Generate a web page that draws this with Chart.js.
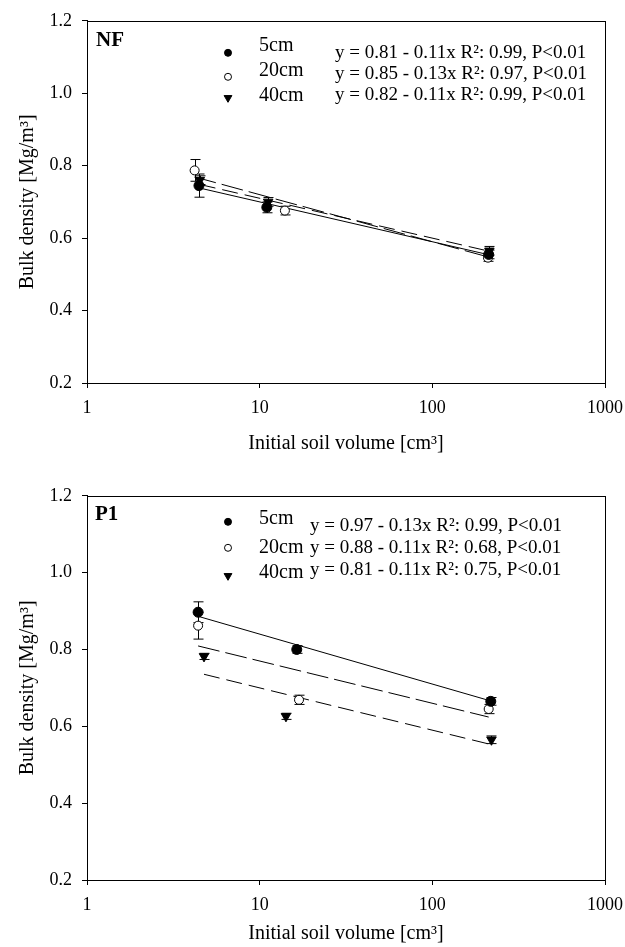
<!DOCTYPE html>
<html>
<head>
<meta charset="utf-8">
<script src="https://cdn.jsdelivr.net/npm/chart.js@4.4.0/dist/chart.umd.min.js"></script>
<style>
  body { margin: 0; background: #fff; }
  .panel { position: absolute; left: 0; }
</style>
</head>
<body>
<div class="panel" style="top:0px"><canvas id="nf" width="625" height="470"></canvas></div>
<div class="panel" style="top:475px"><canvas id="p1" width="625" height="472"></canvas></div>
<script>
const FONT = "'Liberation Serif', 'Times New Roman', serif";
const xTicks = [1, 10, 100, 1000];
const yTicks = [0.2, 0.4, 0.6, 0.8, 1.0, 1.2];
const depthLabels = ['5cm', '20cm', '40cm'];

// NF panel: volume [cm3], bulk density, error
const nfVol5 = [4.45, 11.0, 212];
const nfBd5 = [0.745, 0.685, 0.555];
const nfSd5 = [0.032, 0.015, 0.012];
const nfVol20 = [4.2, 14.0, 210];
const nfBd20 = [0.787, 0.676, 0.546];
const nfSd20 = [0.03, 0.012, 0.01];
const nfVol40 = [4.5, 11.2, 214];
const nfBd40 = [0.76, 0.70, 0.565];
const nfSd40 = [0.012, 0.012, 0.012];
const nfFitA = [0.81, 0.85, 0.82];
const nfFitB = [0.11, 0.13, 0.11];
const nfR2 = ['0.99', '0.97', '0.99'];

// P1 panel
const p1Vol5 = [4.4, 16.4, 218];
const p1Bd5 = [0.897, 0.80, 0.665];
const p1Sd5 = [0.027, 0.01, 0.01];
const p1Vol20 = [4.4, 16.9, 212];
const p1Bd20 = [0.862, 0.669, 0.645];
const p1Sd20 = [0.035, 0.012, 0.012];
const p1Vol40 = [4.76, 14.2, 220];
const p1Bd40 = [0.782, 0.626, 0.565];
const p1Sd40 = [0.008, 0.008, 0.01];
const p1FitA = [0.97, 0.88, 0.81];
const p1FitB = [0.13, 0.11, 0.11];
const p1R2 = ['0.99', '0.68', '0.75'];

const markerStyles = [
  { pointStyle: 'circle', radius: 5, bg: '#000', rotation: 0 },
  { pointStyle: 'circle', radius: 4.5, bg: '#fff', rotation: 0 },
  { pointStyle: 'triangle', radius: 5.5, bg: '#000', rotation: 180 }
];
const lineDashes = [[], [22, 6], [16, 7]];

function pts(vols, bds, sds) {
  return vols.map((v, i) => ({ x: v, y: bds[i], sd: sds[i] }));
}

// regression line y = a - b*log10(x) over the measured range
function fitLine(vols, a, b) {
  const lo = Math.min(...vols), hi = Math.max(...vols);
  return [lo, hi].map(v => ({ x: v, y: a - b * Math.log10(v) }));
}

// error bars under the markers
const errorBars = {
  id: 'errorBars',
  beforeDatasetsDraw(chart) {
    const ctx = chart.ctx;
    const ys = chart.scales.y;
    ctx.save();
    ctx.strokeStyle = '#000';
    ctx.lineWidth = 1;
    chart.data.datasets.forEach((ds, i) => {
      if (!ds.isPoints) return;
      chart.getDatasetMeta(i).data.forEach((el, j) => {
        const d = ds.data[j];
        const top = ys.getPixelForValue(d.y + d.sd);
        const bot = ys.getPixelForValue(d.y - d.sd);
        const x = Math.round(el.x) + 0.5;
        ctx.beginPath();
        ctx.moveTo(x, top); ctx.lineTo(x, bot);
        ctx.moveTo(x - 5, top); ctx.lineTo(x + 5, top);
        ctx.moveTo(x - 5, bot); ctx.lineTo(x + 5, bot);
        ctx.stroke();
      });
    });
    ctx.restore();
  }
};

// frame, panel label, legend and equations
const annotations = {
  id: 'annotations',
  afterDraw(chart, args, opts) {
    const ctx = chart.ctx;
    const a = chart.chartArea;
    ctx.save();
    ctx.strokeStyle = '#000';
    ctx.lineWidth = 1;
    ctx.strokeRect(Math.round(a.left) + 0.5, Math.round(a.top) + 0.5,
      Math.round(a.right - a.left), Math.round(a.bottom - a.top));

    ctx.fillStyle = '#000';
    ctx.textBaseline = 'middle';
    ctx.textAlign = 'left';
    ctx.font = 'bold 21px ' + FONT;
    ctx.fillText(opts.label, a.left + opts.labelX, a.top + opts.labelY);

    depthLabels.forEach((lab, i) => {
      const m = markerStyles[i];
      ctx.fillStyle = m.bg;
      ctx.strokeStyle = '#000';
      Chart.helpers.drawPoint(ctx, {
        pointStyle: m.pointStyle, rotation: m.rotation,
        radius: m.pointStyle === 'triangle' ? 4.5 : 3.5, borderWidth: 1
      }, a.left + 141, a.top + opts.markY[i]);
      ctx.fillStyle = '#000';
      ctx.font = '20px ' + FONT;
      ctx.fillText(lab, a.left + opts.textX, a.top + opts.textY[i]);
      ctx.font = '19px ' + FONT;
      const eq = 'y = ' + opts.fitA[i].toFixed(2) + ' - ' + opts.fitB[i].toFixed(2) +
        'x R\u00b2: ' + opts.r2[i] + ', P<0.01';
      ctx.fillText(eq, a.left + opts.eqX, a.top + opts.eqY[i]);
    });
    ctx.restore();
  }
};

function makeChart(id, p) {
  const series = [
    pts(p.vol[0], p.bd[0], p.sd[0]),
    pts(p.vol[1], p.bd[1], p.sd[1]),
    pts(p.vol[2], p.bd[2], p.sd[2])
  ];
  const datasets = [];
  series.forEach((s, i) => {
    datasets.push({
      label: depthLabels[i] + ' fit',
      data: fitLine(p.vol[i], p.fitA[i], p.fitB[i]),
      showLine: true,
      borderColor: '#000',
      borderWidth: 1,
      borderDash: lineDashes[i],
      pointRadius: 0,
      order: 2
    });
  });
  series.forEach((s, i) => {
    const m = markerStyles[i];
    datasets.push({
      label: depthLabels[i],
      isPoints: true,
      data: s,
      pointStyle: m.pointStyle,
      rotation: m.rotation,
      pointRadius: m.radius,
      backgroundColor: m.bg,
      borderColor: '#000',
      borderWidth: 1,
      order: 1
    });
  });

  const H = document.getElementById(id).height;
  return new Chart(document.getElementById(id), {
    type: 'scatter',
    data: { datasets },
    options: {
      responsive: false,
      animation: false,
      devicePixelRatio: 1,
      layout: { padding: { top: p.plotTop, right: 20, left: 0, bottom: 0 } },
      plugins: {
        legend: { display: false },
        tooltip: { enabled: false },
        annotations: {
          label: p.label, labelX: p.labelX, labelY: p.labelY,
          markY: p.markY, textX: p.textX, textY: p.textY,
          eqX: p.eqX, eqY: p.eqY, fitA: p.fitA, fitB: p.fitB, r2: p.r2
        }
      },
      scales: {
        x: {
          type: 'logarithmic',
          min: 1, max: 1000,
          afterBuildTicks: s => { s.ticks = xTicks.map(v => ({ value: v })); },
          afterFit: s => {
            s.height = H - p.plotBottom;
            s.paddingLeft = 0;
            s.paddingRight = 0;
          },
          ticks: {
            callback: v => String(v),
            color: '#000',
            font: { family: FONT, size: 18 },
            padding: 9,
            maxRotation: 0,
            autoSkip: false
          },
          grid: { drawOnChartArea: false, tickLength: 5, color: '#000' },
          border: { color: '#000' },
          title: {
            display: true,
            text: 'Initial soil volume [cm\u00b3]',
            color: '#000',
            font: { family: FONT, size: 20 },
            padding: { top: 0, bottom: p.xTitlePad }
          }
        },
        y: {
          min: 0.2, max: 1.2,
          afterBuildTicks: s => { s.ticks = yTicks.map(v => ({ value: v })); },
          afterFit: s => { s.width = 87; },
          ticks: {
            callback: v => v.toFixed(1),
            color: '#000',
            font: { family: FONT, size: 18 },
            padding: 10
          },
          grid: { drawOnChartArea: false, tickLength: 5, color: '#000' },
          border: { color: '#000' },
          title: {
            display: true,
            text: 'Bulk density [Mg/m\u00b3]',
            color: '#000',
            font: { family: FONT, size: 20 },
            padding: { top: 16, bottom: 0 }
          }
        }
      }
    },
    plugins: [errorBars, annotations]
  });
}

makeChart('nf', {
  label: 'NF', labelX: 9, labelY: 20,
  vol: [nfVol5, nfVol20, nfVol40],
  bd: [nfBd5, nfBd20, nfBd40],
  sd: [nfSd5, nfSd20, nfSd40],
  fitA: nfFitA, fitB: nfFitB, r2: nfR2,
  markY: [32, 56, 77], textX: 172, textY: [25, 50, 75],
  eqX: 248, eqY: [32, 53, 74],
  plotTop: 13, plotBottom: 383, xTitlePad: 14
});

makeChart('p1', {
  label: 'P1', labelX: 8, labelY: 19,
  vol: [p1Vol5, p1Vol20, p1Vol40],
  bd: [p1Bd5, p1Bd20, p1Bd40],
  sd: [p1Sd5, p1Sd20, p1Sd40],
  fitA: p1FitA, fitB: p1FitB, r2: p1R2,
  markY: [26, 52, 80], textX: 172, textY: [23, 52, 77],
  eqX: 223, eqY: [30, 52, 74],
  plotTop: 19, plotBottom: 405, xTitlePad: 1
});
</script>
</body>
</html>
